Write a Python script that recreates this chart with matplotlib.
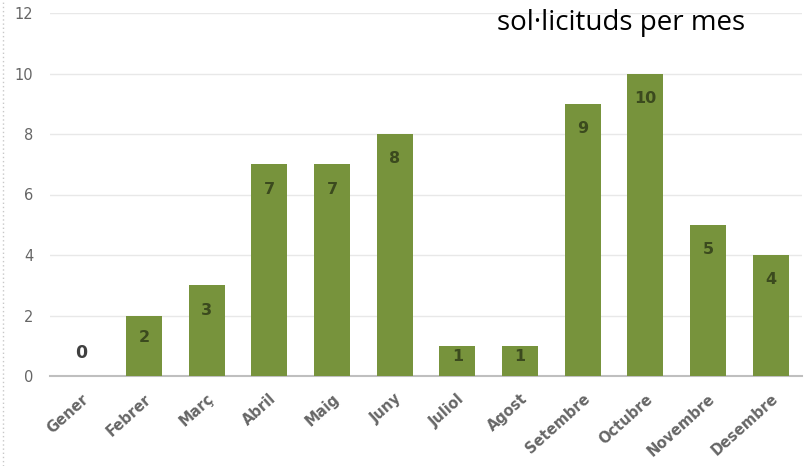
import matplotlib
matplotlib.use("Agg")
import matplotlib.pyplot as plt

months = ["Gener", "Febrer", "Març", "Abril", "Maig", "Juny", "Juliol", "Agost",
          "Setembre", "Octubre", "Novembre", "Desembre"]
values = [0, 2, 3, 7, 7, 8, 1, 1, 9, 10, 5, 4]
yticks = [0, 2, 4, 6, 8, 10, 12]
title = "sol·licituds per mes"

bar_color = "#77933C"
label_color = "#3B4A1E"
tick_color = "#666666"

fig = plt.figure(figsize=(8.11, 4.66), dpi=100)
ax = fig.add_axes([50/811, 90/466, 752/811, 363/466])

x = list(range(len(months)))
ax.bar(x, values, width=0.57, color=bar_color, zorder=3)

for xi, v in zip(x, values):
    if v == 0:
        ax.text(xi, 0.75, str(v), ha="center", va="center", fontsize=12.5,
                fontweight="bold", color="#404040", zorder=4)
    else:
        off = min(0.82, v * 0.36)
        ax.text(xi, v - off, str(v), ha="center", va="center", fontsize=11.5,
                fontweight="bold", color=label_color, zorder=4)

ax.set_xlim(-0.5, len(months) - 0.5)
ax.set_ylim(0, 12)
ax.set_yticks(yticks)
ax.set_yticklabels([str(t) for t in yticks], color=tick_color, fontsize=10.5)
ax.yaxis.grid(True, color="#E8E8E8", linewidth=1, zorder=0)
ax.set_axisbelow(True)

ax.set_xticks(x)
ax.set_xticklabels(months, rotation=42, ha="right", rotation_mode="anchor",
                   fontsize=10.5, fontweight="bold", color=tick_color)

for s in ["top", "right", "left"]:
    ax.spines[s].set_visible(False)
ax.spines["bottom"].set_color("#BFBFBF")
ax.spines["bottom"].set_linewidth(1.5)
ax.tick_params(axis="both", length=0)
ax.tick_params(axis="y", pad=12)
ax.tick_params(axis="x", pad=11)

fig.text(621/811, 1 - 23/466, title, ha="center", va="center", fontsize=20,
         color="black", family="Open Sans")

# dotted left border
fig.add_artist(plt.Line2D([3/811, 3/811], [0, 1], transform=fig.transFigure,
                          color="#C8C8C8", linestyle=(0, (1, 2)), linewidth=1))

fig.savefig("out.png", dpi=100)
